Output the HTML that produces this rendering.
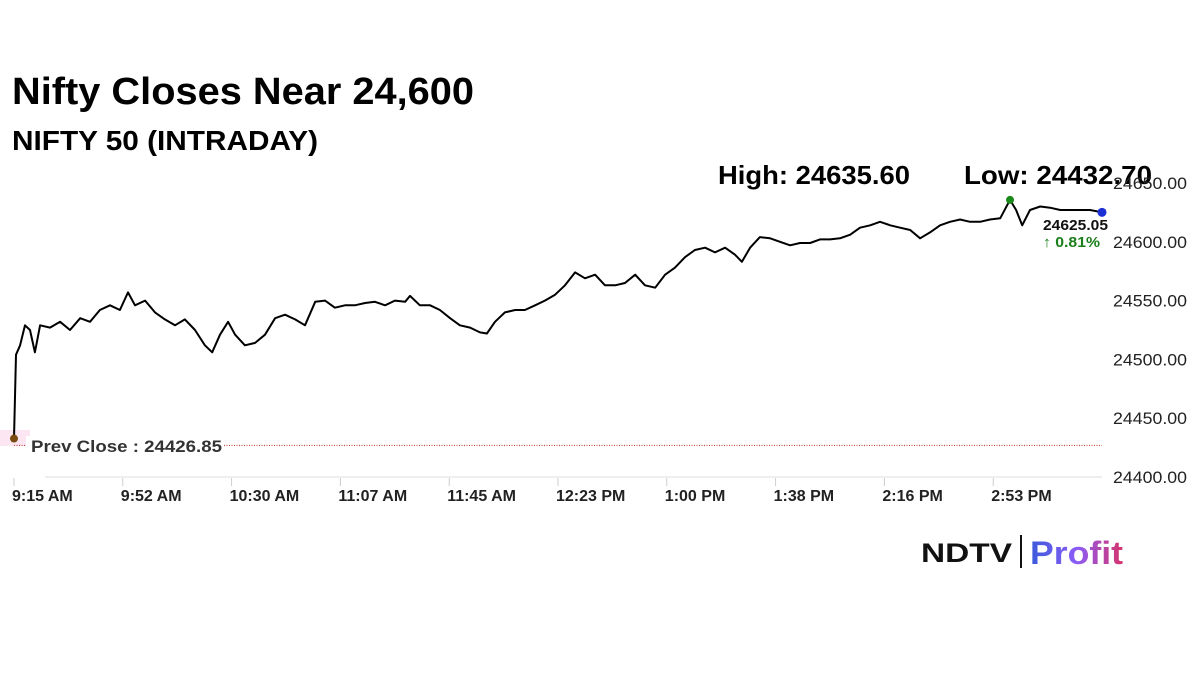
<!DOCTYPE html>
<html><head><meta charset="utf-8"><style>
html,body{margin:0;padding:0;background:#fff;width:1200px;height:675px;overflow:hidden}
svg{display:block;font-family:"Liberation Sans",sans-serif}
</style></head><body>
<svg id="chart" width="1200" height="675" viewBox="0 0 1200 675">
<defs><linearGradient id="pg" x1="0" x2="1"><stop offset="0" stop-color="#3b5bdb"/><stop offset="0.5" stop-color="#8b5cf6"/><stop offset="1" stop-color="#d6336c"/></linearGradient></defs>
<text x="12" y="104" font-size="38" font-weight="bold" fill="#000" textLength="462" lengthAdjust="spacingAndGlyphs">Nifty Closes Near 24,600</text>
<text x="12" y="150" font-size="28" font-weight="bold" fill="#000" textLength="306" lengthAdjust="spacingAndGlyphs">NIFTY 50 (INTRADAY)</text>
<text x="718" y="184" font-size="26" font-weight="bold" fill="#000" textLength="192" lengthAdjust="spacingAndGlyphs">High: 24635.60</text>
<text x="964" y="184" font-size="26" font-weight="bold" fill="#000" textLength="188" lengthAdjust="spacingAndGlyphs">Low: 24432.70</text>
<rect x="0" y="430" width="30" height="16" fill="#fbe6f2"/>
<line x1="45" y1="477" x2="1102" y2="477" stroke="#ddd" stroke-width="1"/>
<g id="yticks"></g><g id="xticks"></g>
<line id="prev" stroke="#c03020" stroke-width="1" stroke-dasharray="1,1.5"/>
<rect x="26" y="436" width="198" height="20" fill="#fff"/>
<text x="31" y="452" font-size="17" font-weight="bold" fill="#333" textLength="191" lengthAdjust="spacingAndGlyphs">Prev Close : 24426.85</text>
<path id="line" fill="none" stroke="#000" stroke-width="2" stroke-linejoin="round"/>
<g id="marks"></g>
<text x="1043" y="230" font-size="15" font-weight="bold" fill="#111" textLength="65" lengthAdjust="spacingAndGlyphs">24625.05</text>
<text x="1043" y="247" font-size="15" font-weight="bold" fill="#1a7f1a" textLength="57" lengthAdjust="spacingAndGlyphs">↑ 0.81%</text>
<text x="921" y="562" font-size="27" font-weight="bold" fill="#111" textLength="91" lengthAdjust="spacingAndGlyphs">NDTV</text>
<line x1="1021" y1="535" x2="1021" y2="568" stroke="#111" stroke-width="2"/>
<text x="1030" y="564" font-size="32" font-weight="bold" fill="url(#pg)" textLength="93" lengthAdjust="spacingAndGlyphs">Profit</text>
</svg>
<script>
const minutes=[0,0.7,2.1,3.8,5.5,7.2,9,12.4,15.9,19.3,22.8,26.2,29.6,33.1,36.5,39.3,41.7,45.2,48.6,52,55.5,58.9,62.4,65.8,68.3,71,73.8,76.2,79.6,83.1,86.5,90,93.4,96.9,100.3,103.8,107.2,110.6,114.1,117.5,121,124.4,127.9,131.3,134.8,136.5,139.9,143.4,146.8,150.3,153.7,157.2,160.6,163,165.8,169.2,172.7,176.1,179.6,183,186.5,189.9,193.4,196.8,200.3,203.7,207.2,210.6,214.1,217.5,221,224.4,227.8,231.3,234.7,238.2,241.6,245.1,248.5,250.9,253.7,257.1,260.6,264,267.5,270.9,274.4,277.8,281.3,284.7,288.2,291.6,295.1,298.5,302,305.4,308.9,312.3,315.7,319.2,322.6,326.1,329.5,333,336.4,339.9,343.3,345.4,347.5,350.2,353.7,357.1,360.6,364,367.5,370.9,375];
const values=[24432.7,24504,24512,24529,24525,24506,24529,24527,24532,24525,24535,24532,24542,24546,24542,24557,24546,24550,24540,24534,24529,24534,24525,24512,24506,24521,24532,24521,24512,24514,24521,24535,24538,24534,24529,24549,24550,24544,24546,24546,24548,24549,24546,24550,24549,24554,24546,24546,24542,24535,24529,24527,24523,24522,24532,24540,24542,24542,24546,24550,24555,24563,24574,24569,24572,24563,24563,24565,24572,24563,24561,24572,24578,24587,24593,24595,24591,24595,24589,24583,24595,24604,24603,24600,24597,24599,24599,24602,24602,24603,24606,24612,24614,24617,24614,24612,24610,24603,24608,24614,24617,24619,24617,24617,24619,24620,24635.6,24627,24614,24627,24630,24629,24627,24627,24627,24627,24625.05];
const yTicks=[24650,24600,24550,24500,24450,24400];
const xTickLabels=["9:15 AM","9:52 AM","10:30 AM","11:07 AM","11:45 AM","12:23 PM","1:00 PM","1:38 PM","2:16 PM","2:53 PM"];
const xTickMinutes=[0,37.5,75,112.5,150,187.5,225,262.5,300,337.5];
const prevClose=24426.85;
const NS='http://www.w3.org/2000/svg';
const X=m=>14+m*(1102-14)/375;
const Y=v=>183+(24650-v)*(477-183)/250;
function mk(tag,attrs,parent){const e=document.createElementNS(NS,tag);for(const k in attrs)e.setAttribute(k,attrs[k]);document.getElementById(parent).appendChild(e);return e;}
yTicks.forEach(v=>{const t=mk('text',{x:1187,y:Y(v)+6,'font-size':17,'text-anchor':'end',fill:'#222',textLength:74,lengthAdjust:'spacingAndGlyphs'},'yticks');t.textContent=v.toFixed(2);

});
xTickLabels.forEach((l,i)=>{const x=X(xTickMinutes[i]);const ln=mk('line',{x1:x,x2:x,y1:478,y2:486,stroke:'#ccc'},'xticks');


const t=mk('text',{x:x-2,y:501,'font-size':16,'font-weight':'bold',fill:'#222'},'xticks');t.textContent=l;

});
const pl=document.getElementById('prev');pl.setAttribute('x1',14);pl.setAttribute('x2',1102);pl.setAttribute('y1',Y(prevClose));pl.setAttribute('y2',Y(prevClose));
document.getElementById('line').setAttribute('d',minutes.map((m,i)=>(i?'L':'M')+X(m).toFixed(1)+','+Y(values[i]).toFixed(1)).join(''));
let hi=0;values.forEach((v,i)=>{if(v>values[hi])hi=i;});
const c1=mk('circle',{cx:X(minutes[0]),cy:Y(values[0]),r:4,fill:'#7a4a10'},'marks');


const c2=mk('circle',{cx:X(minutes[hi]),cy:Y(values[hi]),r:4,fill:'#1a8a1a'},'marks');


const n=values.length-1;
const c3=mk('circle',{cx:X(minutes[n]),cy:Y(values[n]),r:4.5,fill:'#1c2fd6'},'marks');


</script>
</body></html>
